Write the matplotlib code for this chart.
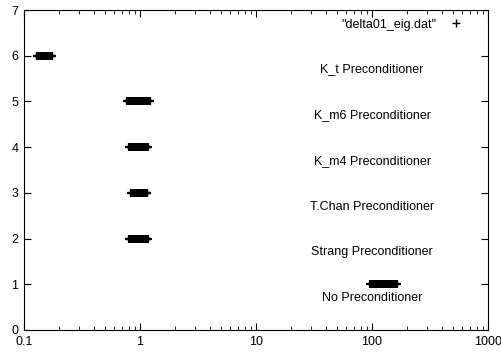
import matplotlib.pyplot as plt
from matplotlib.ticker import LogLocator, FixedLocator, NullFormatter, FuncFormatter

plt.rcParams['font.family'] = ['Liberation Sans', 'DejaVu Sans']

# eigenvalues for each preconditioner (row index on y axis)
k_t_eig = [0.130, 0.132, 0.134, 0.136, 0.138, 0.140, 0.142, 0.144, 0.146, 0.148, 0.150,
           0.152, 0.154, 0.156, 0.158, 0.160, 0.162, 0.164, 0.166, 0.168, 0.170, 0.172, 0.175]
k_m6_eig = [0.78, 0.80, 0.82, 0.84, 0.86, 0.88, 0.90, 0.92, 0.94, 0.96, 0.98, 1.00, 1.02,
            1.04, 1.06, 1.08, 1.10, 1.12, 1.14, 1.16, 1.18, 1.20, 1.22]
k_m4_eig = [0.80, 0.82, 0.84, 0.86, 0.88, 0.90, 0.92, 0.94, 0.96, 0.98, 1.00, 1.02, 1.04,
            1.06, 1.08, 1.10, 1.12, 1.14, 1.16, 1.18]
tchan_eig = [0.84, 0.86, 0.88, 0.90, 0.92, 0.94, 0.96, 0.98, 1.00, 1.02, 1.04, 1.06, 1.08,
             1.10, 1.12, 1.14, 1.16]
strang_eig = [0.80, 0.82, 0.84, 0.86, 0.88, 0.90, 0.92, 0.94, 0.96, 0.98, 1.00, 1.02, 1.04,
              1.06, 1.08, 1.10, 1.12, 1.14, 1.16, 1.18]
none_eig = [96, 99, 102, 105, 108, 111, 114, 117, 120, 123, 126, 129, 132, 135, 138, 141,
            144, 147, 150, 153, 156, 159, 162, 165]

rows = [1, 2, 3, 4, 5, 6]
labels = ["No Preconditioner", "Strang Preconditioner", "T.Chan Preconditioner",
          "K_m4 Preconditioner", "K_m6 Preconditioner", "K_t Preconditioner"]
all_eig = [none_eig, strang_eig, tchan_eig, k_m4_eig, k_m6_eig, k_t_eig]

xs = []
ys = []
for r, e in zip(rows, all_eig):
    xs += e
    ys += [r] * len(e)

fig = plt.figure(figsize=(5.01, 3.52), dpi=100)
ax = fig.add_axes([24 / 501, 22 / 352, 464 / 501, 320 / 352])

ax.plot(xs, ys, linestyle='none', marker='+', markersize=6, markeredgewidth=1.6,
        color='black', label='"delta01_eig.dat"')

for r, lab in zip(rows, labels):
    ax.text(100, r - 0.3, lab, ha='center', va='center', fontsize=9)

ax.set_xscale('log')
ax.set_xlim(0.1, 1000)
ax.set_ylim(0, 7)
ax.set_yticks(range(0, 8))
ax.xaxis.set_major_locator(FixedLocator([0.1, 1, 10, 100, 1000]))
ax.xaxis.set_major_formatter(FuncFormatter(lambda v, p: '%g' % v))
ax.xaxis.set_minor_locator(LogLocator(base=10, subs=range(2, 10)))
ax.xaxis.set_minor_formatter(NullFormatter())
ax.tick_params(which='both', direction='in', top=True, right=True, labelsize=9, pad=4)
ax.tick_params(which='major', length=5)
ax.tick_params(which='minor', length=3)

leg = ax.legend(loc='upper right', frameon=False, markerfirst=False, fontsize=9,
                handlelength=1.5, borderaxespad=0.3, bbox_to_anchor=(0.97, 1.0))
for h in leg.legend_handles:
    h.set_markeredgewidth(1.0)

fig.savefig('out.png', dpi=100)
